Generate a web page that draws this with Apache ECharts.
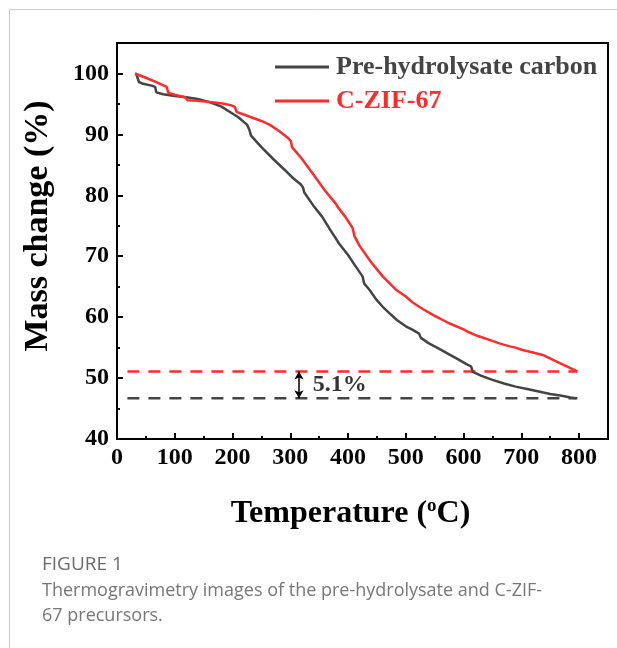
<!DOCTYPE html>
<html><head><meta charset="utf-8">
<script src="https://cdn.jsdelivr.net/npm/echarts@6/dist/echarts.min.js"></script>
<style>html,body{margin:0;padding:0;background:#fff}#c{width:617px;height:648px}</style>
</head><body><div id="c"></div>
<script>
// ---- data ----
const seriesNames = ['Pre-hydrolysate carbon', 'C-ZIF-67'];
const preTemp = [33, 38, 45, 60, 66, 68, 80, 100, 120, 140, 160, 180, 197, 210, 225, 229, 232, 250, 270, 290, 305, 318, 322, 324, 340, 355, 370, 385, 400, 412, 425, 428, 437, 448, 460, 471, 485, 500, 512, 523, 526, 540, 558, 575, 590, 605, 613, 616, 630, 650, 670, 690, 710, 730, 750, 770, 785, 795];
const preMass = [100.0, 98.6, 98.3, 98.0, 97.8, 96.9, 96.6, 96.3, 96.1, 95.8, 95.3, 94.6, 93.6, 92.8, 91.6, 90.8, 89.8, 87.9, 86.0, 84.2, 82.8, 81.8, 81.3, 80.5, 78.3, 76.5, 74.2, 72.0, 70.2, 68.5, 66.7, 65.5, 64.5, 63.0, 61.7, 60.7, 59.5, 58.5, 57.9, 57.3, 56.6, 55.7, 54.8, 53.9, 53.1, 52.3, 51.9, 51.0, 50.4, 49.7, 49.1, 48.6, 48.2, 47.8, 47.4, 47.1, 46.8, 46.7];
const zifTemp = [31, 50, 70, 86, 89, 100, 118, 122, 140, 160, 180, 197, 204, 207, 230, 250, 264, 280, 295, 301, 303, 320, 340, 360, 379, 382, 395, 402, 408, 411, 420, 440, 460, 483, 500, 506, 512, 530, 550, 575, 600, 607, 625, 650, 662, 680, 690, 702, 720, 737, 755, 775, 797];
const zifMass = [100.0, 99.3, 98.5, 97.8, 96.8, 96.5, 96.1, 95.6, 95.5, 95.3, 95.1, 94.8, 94.5, 93.7, 92.9, 92.2, 91.6, 90.6, 89.5, 88.9, 87.9, 86.0, 83.4, 80.8, 78.6, 78.1, 76.5, 75.5, 74.6, 73.3, 71.7, 69.0, 66.7, 64.5, 63.4, 62.9, 62.4, 61.3, 60.2, 59.0, 58.0, 57.6, 56.9, 56.1, 55.7, 55.2, 55.0, 54.6, 54.2, 53.8, 53.0, 52.1, 51.1];
const residueTemp = [18, 797];
const residueZif = 51.1;
const residuePre = 46.7;
const diffTemp = 315;
const diffLabel = '5.1%';
const xTickLabels = [0, 100, 200, 300, 400, 500, 600, 700, 800];
const yTickLabels = [40, 50, 60, 70, 80, 90, 100];
const captionTitle = 'FIGURE 1';
const captionLines = ['Thermogravimetry images of the pre-hydrolysate and C-ZIF-', '67 precursors.'];

// ---- chart ----
const zip = (a, b) => a.map((v, i) => [v, b[i]]);
const serif = '"Liberation Serif", "Times New Roman", serif';
const black = '#444444';
const red = '#ff2b2b';
const chart = echarts.init(document.getElementById('c'), null, {renderer: 'canvas'});

const tickLabel = {
  fontFamily: serif, fontWeight: 'bold', fontSize: 24, color: '#000',
  showMaxLabel: false
};

chart.setOption({
  animation: false,
  backgroundColor: '#fff',
  grid: {left: 117, right: 9, top: 43, bottom: 209, show: true, borderColor: '#000', borderWidth: 2, backgroundColor: 'transparent'},
  legend: {
    left: 270, top: 49, orient: 'vertical', itemWidth: 54, itemHeight: 3, itemGap: 8,
    icon: 'rect',
    textStyle: {fontFamily: serif, fontWeight: 'bold', fontSize: 26, lineHeight: 25, padding: [0, 0, 0, 2]},
    data: [
      {name: seriesNames[0], textStyle: {color: black}, itemStyle: {color: black}},
      {name: seriesNames[1], textStyle: {color: red}, itemStyle: {color: red}}
    ]
  },
  xAxis: [{
    type: 'value', min: 0, max: 850, interval: 100, position: 'bottom',
    axisLine: {show: true, lineStyle: {color: '#000', width: 2}},
    axisTick: {show: true, inside: true, length: 6, lineStyle: {color: '#000', width: 2}},
    axisLabel: Object.assign({margin: 7}, tickLabel, {formatter: v => xTickLabels.includes(v) ? String(v) : ''}),
    splitLine: {show: false},
    name: 'Temperature ({sup|o}C)', nameLocation: 'middle', nameGap: 58,
    nameTextStyle: {fontFamily: serif, fontWeight: 'bold', fontSize: 32, color: '#000', padding: [0, 24, 0, 0],
      rich: {sup: {fontFamily: serif, fontWeight: 'bold', fontSize: 19, color: '#000', verticalAlign: 'top', padding: [0, 0, 14, 0]}}}
  }, {
    type: 'value', min: 0, max: 850, interval: 50, position: 'bottom',
    axisLine: {show: false}, axisLabel: {show: false}, splitLine: {show: false},
    axisTick: {show: true, inside: true, length: 3, lineStyle: {color: '#000', width: 2}}
  }],
  yAxis: [{
    type: 'value', min: 40, max: 105, interval: 10, position: 'left',
    axisLine: {show: true, lineStyle: {color: '#000', width: 2}},
    axisTick: {show: true, inside: true, length: 6, lineStyle: {color: '#000', width: 2}},
    axisLabel: Object.assign({margin: 8}, tickLabel, {formatter: v => yTickLabels.includes(v) ? String(v) : ''}),
    splitLine: {show: false},
    name: 'Mass change (%)', nameLocation: 'middle', nameGap: 62, nameRotate: 90,
    nameTextStyle: {fontFamily: serif, fontWeight: 'bold', fontSize: 34, color: '#000', padding: [0, 0, 0, 30]}
  }, {
    type: 'value', min: 40, max: 105, interval: 5, position: 'left',
    axisLine: {show: false}, axisLabel: {show: false}, splitLine: {show: false},
    axisTick: {show: true, inside: true, length: 3, lineStyle: {color: '#000', width: 2}}
  }],
  series: [
    {name: seriesNames[0], type: 'line', data: zip(preTemp, preMass), showSymbol: false, symbol: 'none',
      lineStyle: {color: black, width: 2.5}, itemStyle: {color: black}, z: 3},
    {name: seriesNames[1], type: 'line', data: zip(zifTemp, zifMass), showSymbol: false, symbol: 'none',
      lineStyle: {color: red, width: 2.5}, itemStyle: {color: red}, z: 4},
    {name: 'zif-residue', type: 'line', data: residueTemp.map(t => [t, residueZif]), symbol: 'none',
      lineStyle: {color: red, width: 2.5, type: [12, 9]}, z: 2},
    {name: 'pre-residue', type: 'line', data: residueTemp.map(t => [t, residuePre]), symbol: 'none',
      lineStyle: {color: black, width: 2.5, type: [12, 9]}, z: 2},
    {name: 'diff', type: 'scatter', data: [[diffTemp + 24, (residueZif + residuePre) / 2]], symbolSize: 0,
      label: {show: true, position: 'right', distance: 0, formatter: diffLabel, fontFamily: serif, fontWeight: 'bold', fontSize: 24, color: '#000'},
      markLine: {silent: true, symbol: ['arrow', 'arrow'], symbolSize: [7, 8], label: {show: false},
        lineStyle: {color: '#000', width: 1.5, type: 'solid'},
        data: [[{coord: [diffTemp, residueZif]}, {coord: [diffTemp, residuePre]}]]}, z: 5}
  ],
  graphic: [
    {type: 'line', shape: {x1: 9.5, y1: 9.5, x2: 617, y2: 9.5}, style: {stroke: '#cccccc', lineWidth: 1}},
    {type: 'line', shape: {x1: 9.5, y1: 9.5, x2: 9.5, y2: 648}, style: {stroke: '#cccccc', lineWidth: 1}},
    {type: 'text', left: 42, top: 555, style: {text: captionTitle, fontFamily: '"Open Sans", sans-serif', fontSize: 19, fill: '#6b6b6b'}},
    {type: 'text', left: 42, top: 582, style: {text: captionLines[0], fontFamily: '"Open Sans", sans-serif', fontSize: 18, fill: '#777777'}},
    {type: 'text', left: 42, top: 607, style: {text: captionLines[1], fontFamily: '"Open Sans", sans-serif', fontSize: 18, fill: '#777777'}}
  ]
});
</script></body></html>
